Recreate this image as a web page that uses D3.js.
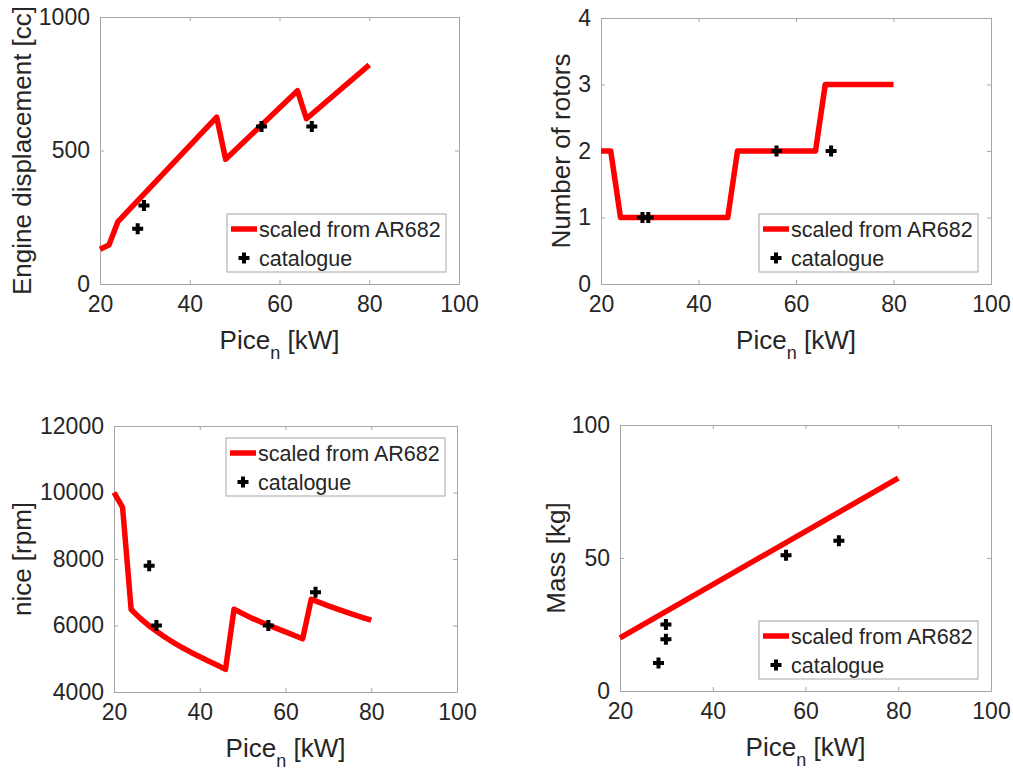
<!DOCTYPE html>
<html>
<head>
<meta charset="utf-8">
<script src="https://cdn.jsdelivr.net/npm/d3@7"></script>
<style>
  body { margin: 0; background: #fff; }
  svg { font-family: "Liberation Sans", Arial, sans-serif; }
  .tick text { fill: #262626; }
</style>
</head>
<body>
<div id="chart"></div>
<script>
// x axis shared by every panel: engine power in kW
const xTicks = [20, 40, 60, 80, 100];

// engine displacement, scaled from AR682
const dispPower = [20, 22, 24, 46, 48, 64, 66, 80];
const dispCC = [130, 146, 234, 625, 467, 724, 619, 821];
const dispCatPower = [28.4, 29.8, 56, 67.2];
const dispCatCC = [207, 294, 590, 590];

// number of rotors
const rotorPower = [20, 22, 24, 46, 48, 64, 66, 80];
const rotorCount = [2, 2, 1, 1, 2, 2, 3, 3];
const rotorCatPower = [28.5, 29.7, 56, 67.2];
const rotorCatCount = [1, 1, 2, 2];

// rotational speed
const rpmPower = [20, 22, 24, 26, 28, 30, 32, 34, 36, 38, 40, 42, 44, 46,
  48, 52, 56, 60, 64, 66, 70, 74, 78, 80];
const rpmValue = [10000, 9550, 6480, 6230, 6010, 5820, 5640, 5480, 5330, 5190, 5060, 4930, 4810, 4680,
  6490, 6230, 6010, 5810, 5600, 6790, 6590, 6410, 6240, 6160];
const rpmCatPower = [28.2, 29.9, 56, 67];
const rpmCatValue = [7800, 6000, 6000, 7000];

// mass
const massPower = [20, 80];
const massKg = [20, 80];
const massCatPower = [28.3, 29.9, 29.9, 55.8, 67.2];
const massCatKg = [10.5, 19.5, 25, 51, 56.5];

const legendLabels = ["scaled from AR682", "catalogue"];

const zip = (a, b) => a.map((v, i) => [v, b[i]]);

const panels = [
  {
    box: { left: 100, right: 459, top: 17, bottom: 284 },
    yDomain: [0, 1000], yTicks: [0, 500, 1000],
    yLabel: "Engine displacement [cc]", yLabelX: 22,
    line: zip(dispPower, dispCC), cat: zip(dispCatPower, dispCatCC),
    legend: { x: 227, y: 214 }
  },
  {
    box: { left: 601, right: 991, top: 18, bottom: 284 },
    yDomain: [0, 4], yTicks: [0, 1, 2, 3, 4],
    yLabel: "Number of rotors", yLabelX: 561,
    line: zip(rotorPower, rotorCount), cat: zip(rotorCatPower, rotorCatCount),
    legend: { x: 759, y: 214 }
  },
  {
    box: { left: 114, right: 457, top: 426, bottom: 692 },
    yDomain: [4000, 12000], yTicks: [4000, 6000, 8000, 10000, 12000],
    yLabel: "nice [rpm]", yLabelX: 22,
    line: zip(rpmPower, rpmValue), cat: zip(rpmCatPower, rpmCatValue),
    legend: { x: 226, y: 438 }
  },
  {
    box: { left: 620, right: 991, top: 425, bottom: 691 },
    yDomain: [0, 100], yTicks: [0, 50, 100],
    yLabel: "Mass [kg]", yLabelX: 556,
    line: zip(massPower, massKg), cat: zip(massCatPower, massCatKg),
    legend: { x: 759, y: 621 }
  }
];

const svg = d3.select("#chart")
  .append("svg")
  .attr("width", 1013)
  .attr("height", 773);

const boxColor = "#a6a6a6";
const tickFont = 23;

// thick "+" marker like matlab's
function plus(g, cx, cy) {
  g.append("path")
    .attr("d", `M${cx - 5.5},${cy}H${cx + 5.5}M${cx},${cy - 5.5}V${cy + 5.5}`)
    .attr("stroke", "#000")
    .attr("stroke-width", 4)
    .attr("fill", "none");
}

panels.forEach(function (p) {
  const b = p.box;
  const x = d3.scaleLinear().domain([20, 100]).range([b.left, b.right]);
  const y = d3.scaleLinear().domain(p.yDomain).range([b.bottom, b.top]);
  const g = svg.append("g");

  // ticks inward on all four sides
  const axes = [
    { ax: d3.axisBottom(x).tickValues(xTicks), tr: `translate(0,${b.bottom})`, lab: true, pad: 12 },
    { ax: d3.axisTop(x).tickValues(xTicks), tr: `translate(0,${b.top})`, lab: false, pad: 10 },
    { ax: d3.axisLeft(y).tickValues(p.yTicks), tr: `translate(${b.left},0)`, lab: true, pad: 10 },
    { ax: d3.axisRight(y).tickValues(p.yTicks), tr: `translate(${b.right},0)`, lab: false, pad: 10 }
  ];
  axes.forEach(function (a) {
    const ag = g.append("g")
      .attr("transform", a.tr)
      .call(a.ax.tickSizeInner(-4).tickSizeOuter(0).tickPadding(a.pad).tickFormat(d3.format("d")));
    ag.select(".domain").attr("stroke", boxColor);
    ag.selectAll(".tick line").attr("stroke", boxColor);
    ag.selectAll(".tick text")
      .attr("font-size", tickFont)
      .attr("font-family", null)
      .style("display", a.lab ? null : "none");
  });

  // axis labels
  const xl = g.append("text")
    .attr("x", (b.left + b.right) / 2)
    .attr("y", b.bottom + 65)
    .attr("text-anchor", "middle")
    .attr("fill", "#262626")
    .attr("font-size", 26);
  xl.append("tspan").text("Pice");
  xl.append("tspan").attr("font-size", 18).attr("dy", 10).text("n");
  xl.append("tspan").attr("dy", -10).text(" [kW]");

  g.append("text")
    .attr("transform", `translate(${p.yLabelX},${(b.top + b.bottom) / 2}) rotate(-90)`)
    .attr("dy", "0.35em")
    .attr("text-anchor", "middle")
    .attr("fill", "#262626")
    .attr("font-size", 26)
    .text(p.yLabel);

  // model curve
  g.append("path")
    .datum(p.line)
    .attr("fill", "none")
    .attr("stroke", "#ff0000")
    .attr("stroke-width", 5.5)
    .attr("stroke-linejoin", "round")
    .attr("d", d3.line().x((d) => x(d[0])).y((d) => y(d[1])));

  // catalogue engines
  p.cat.forEach(function (d) {
    plus(g, x(d[0]), y(d[1]));
  });

  // legend
  const lg = g.append("g").attr("transform", `translate(${p.legend.x},${p.legend.y})`);
  lg.append("rect")
    .attr("width", 219)
    .attr("height", 58)
    .attr("fill", "#fff")
    .attr("stroke", boxColor);
  lg.append("line")
    .attr("x1", 4).attr("x2", 30)
    .attr("y1", 15).attr("y2", 15)
    .attr("stroke", "#ff0000")
    .attr("stroke-width", 5.5);
  plus(lg, 17, 44);
  legendLabels.forEach(function (t, i) {
    lg.append("text")
      .attr("x", 32)
      .attr("y", i === 0 ? 15 : 44)
      .attr("dy", "0.35em")
      .attr("font-size", 21.5)
      .attr("fill", "#262626")
      .text(t);
  });
});
</script>
</body>
</html>
